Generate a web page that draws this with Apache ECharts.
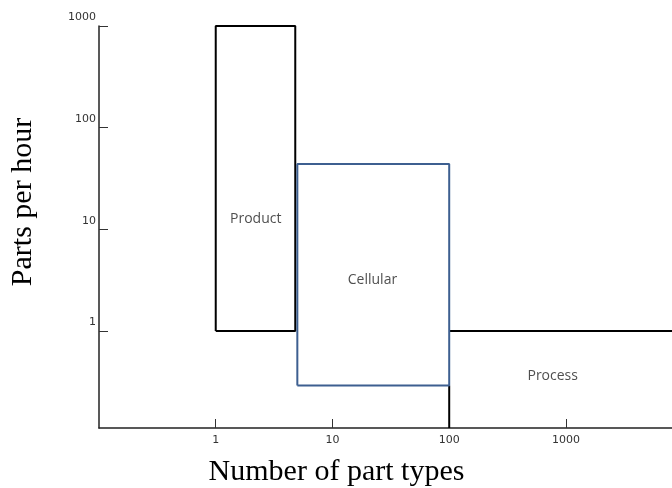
<!DOCTYPE html>
<html>
<head>
<meta charset="utf-8">
<script src="https://cdn.jsdelivr.net/npm/echarts@6/dist/echarts.min.js"></script>
<style>html,body{margin:0;padding:0;background:#fff;}#c{width:672px;height:488px;}</style>
</head>
<body>
<div id="c"></div>
<script>
// axis ranges and tick labels
const xRange = [0.1, 8100];
const yRange = [0.111, 1000];
const xTicks = [1, 10, 100, 1000];
const yTicks = [1, 10, 100, 1000];

// region outlines (number of part types, parts per hour)
const productX = [1, 1, 4.8, 4.8, 1];
const productY = [1, 1000, 1000, 1, 1];
const cellularX = [5, 5, 100, 100, 5];
const cellularY = [0.29, 44, 44, 0.29, 0.29];
const processTopX = [100, 8100];
const processTopY = [1, 1];
const processLeftX = [100, 100];
const processLeftY = [0.111, 0.29];

// region labels
const regionNames = ['Product', 'Cellular', 'Process'];
const regionLabelX = [2.2, 22, 770];
const regionLabelY = [12.5, 3.2, 0.36];

const zip = (xs, ys) => xs.map((x, i) => [x, ys[i]]);

function outline(name, xs, ys, color) {
  return {
    name: name, type: 'line', data: zip(xs, ys), symbol: 'none',
    lineStyle: { color: color, width: 2 }, clip: false, silent: true, z: 3
  };
}

const chart = echarts.init(document.getElementById('c'), null, { renderer: 'canvas' });
chart.setOption({
  animation: false,
  backgroundColor: '#fff',
  grid: { left: 99, right: 0, top: 26, bottom: 60, containLabel: false, outerBoundsMode: 'none' },
  xAxis: {
    type: 'log', min: xRange[0], max: xRange[1], logBase: 10,
    name: 'Number of part types', nameLocation: 'middle', nameGap: 29,
    nameTextStyle: { fontFamily: 'Liberation Serif', fontSize: 30, color: '#000', padding: [0, 98, 0, 0] },
    axisLine: { lineStyle: { color: '#222', width: 1.5 } },
    axisTick: { inside: true, length: 9, customValues: xTicks, lineStyle: { color: '#333', width: 1 } },
    axisLabel: { customValues: xTicks, margin: 7, fontFamily: 'DejaVu Sans', fontSize: 11, color: '#333', formatter: v => String(v) },
    splitLine: { show: false }
  },
  yAxis: {
    type: 'log', min: yRange[0], max: yRange[1], logBase: 10,
    name: 'Parts per hour', nameLocation: 'middle', nameRotate: 90, nameGap: 61,
    nameTextStyle: { fontFamily: 'Liberation Serif', fontSize: 30, color: '#000', padding: [0, 0, 0, 50] },
    axisLine: { lineStyle: { color: '#222', width: 1.5 } },
    axisTick: { inside: true, length: 9, customValues: yTicks, lineStyle: { color: '#333', width: 1 } },
    axisLabel: { customValues: yTicks, margin: 3, verticalAlign: 'bottom', padding: [0, 0, 3, 0], fontFamily: 'DejaVu Sans', fontSize: 11, color: '#333', formatter: v => String(v) },
    splitLine: { show: false }
  },
  series: [
    outline('Product', productX, productY, '#000'),
    outline('Process top', processTopX, processTopY, '#000'),
    outline('Process left', processLeftX, processLeftY, '#000'),
    outline('Cellular', cellularX, cellularY, '#3d5f90'),
    {
      type: 'scatter', symbolSize: 0, silent: true, z: 4,
      data: regionNames.map((n, i) => ({ name: n, value: [regionLabelX[i], regionLabelY[i]] })),
      label: { show: true, position: 'inside', formatter: p => p.name, fontFamily: 'Open Sans', fontSize: 14, color: '#222' }
    }
  ]
});
</script>
</body>
</html>
